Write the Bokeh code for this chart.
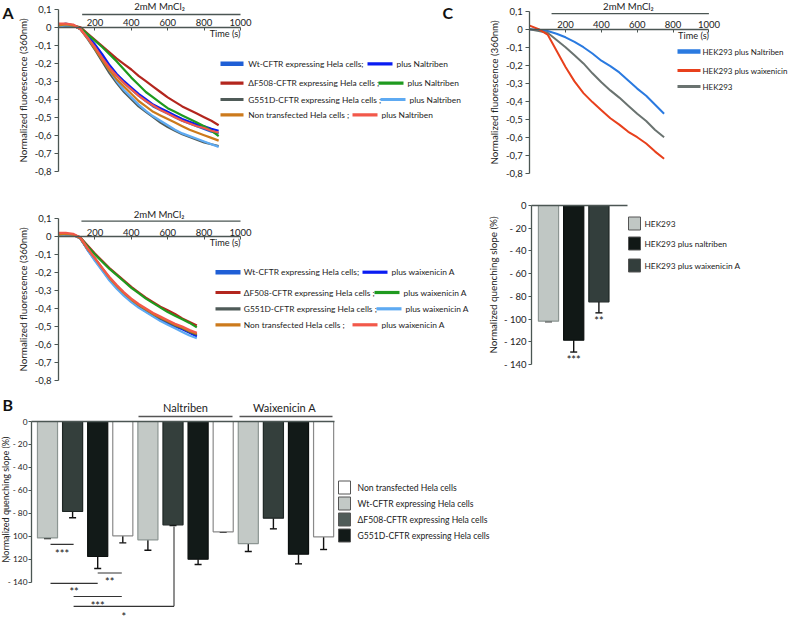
import math
from bokeh.plotting import figure
from bokeh.models import (Range1d, LinearAxis, FixedTicker, CustomJSTickFormatter,
                          Whisker, TeeHead, ColumnDataSource)
from bokeh.layouts import row, column
from bokeh.embed import file_html
from bokeh.resources import INLINE
from bokeh.core.properties import value

# ====================== DATA ======================
# Panel A (top): Mn2+ quench traces, plus Naltriben
time_a1 = [0, 40, 80, 120, 160, 200, 240, 280, 320, 360, 400, 440, 480, 520, 560, 600,
           640, 680, 720, 760, 800, 840, 880]
wt_a1 = [0.01, 0.02, 0.01, -0.01, -0.055, -0.10, -0.16, -0.22, -0.27, -0.31, -0.345, -0.38,
         -0.41, -0.44, -0.46, -0.48, -0.50, -0.52, -0.535, -0.55, -0.565, -0.58, -0.59]
wt_nal_a1 = [0.01, 0.01, 0.01, -0.01, -0.05, -0.095, -0.15, -0.21, -0.26, -0.30, -0.335, -0.37,
             -0.40, -0.43, -0.45, -0.47, -0.49, -0.51, -0.525, -0.54, -0.55, -0.565, -0.575]
df_a1 = [0.01, 0.015, 0.01, 0.0, -0.035, -0.07, -0.105, -0.14, -0.175, -0.205, -0.235, -0.27,
         -0.30, -0.33, -0.36, -0.39, -0.415, -0.44, -0.46, -0.48, -0.50, -0.52, -0.545]
df_nal_a1 = [0.005, 0.01, 0.01, -0.005, -0.04, -0.075, -0.11, -0.15, -0.19, -0.235, -0.28, -0.32,
             -0.36, -0.39, -0.42, -0.45, -0.47, -0.49, -0.51, -0.53, -0.55, -0.575, -0.605]
g5_a1 = [0.01, 0.01, 0.01, -0.01, -0.065, -0.125, -0.19, -0.255, -0.31, -0.36, -0.40, -0.44,
         -0.47, -0.50, -0.53, -0.555, -0.575, -0.595, -0.61, -0.625, -0.64, -0.65, -0.66]
g5_nal_a1 = [0.005, 0.01, 0.01, -0.01, -0.06, -0.115, -0.175, -0.24, -0.30, -0.35, -0.39, -0.43,
             -0.465, -0.495, -0.52, -0.545, -0.57, -0.59, -0.605, -0.62, -0.635, -0.65, -0.665]
non_a1 = [0.01, 0.015, 0.01, -0.01, -0.06, -0.12, -0.18, -0.24, -0.29, -0.33, -0.37, -0.41,
          -0.44, -0.47, -0.49, -0.51, -0.53, -0.55, -0.57, -0.585, -0.60, -0.615, -0.63]
non_nal_a1 = [0.02, 0.02, 0.015, -0.01, -0.06, -0.11, -0.17, -0.225, -0.27, -0.31, -0.345, -0.38,
              -0.41, -0.435, -0.46, -0.48, -0.50, -0.52, -0.535, -0.55, -0.56, -0.575, -0.585]

# Panel A (bottom): plus waixenicin A
time_a2 = [0, 40, 80, 120, 160, 200, 240, 280, 320, 360, 400, 440, 480, 520, 560, 600,
           640, 680, 720, 760]
wt_a2 = [0.015, 0.015, 0.01, -0.01, -0.07, -0.125, -0.18, -0.235, -0.28, -0.32,
         -0.355, -0.385, -0.41, -0.435, -0.455, -0.475, -0.495, -0.51, -0.53, -0.55]
wt_wx_a2 = [0.01, 0.01, 0.01, -0.01, -0.075, -0.13, -0.185, -0.24, -0.285, -0.325,
            -0.36, -0.39, -0.415, -0.44, -0.46, -0.48, -0.50, -0.515, -0.535, -0.555]
df_a2 = [0.01, 0.015, 0.01, -0.005, -0.05, -0.095, -0.135, -0.175, -0.21, -0.245,
         -0.28, -0.31, -0.34, -0.365, -0.39, -0.41, -0.43, -0.455, -0.475, -0.495]
df_wx_a2 = [0.005, 0.01, 0.01, -0.005, -0.055, -0.10, -0.14, -0.18, -0.215, -0.25,
            -0.285, -0.315, -0.345, -0.37, -0.395, -0.42, -0.44, -0.46, -0.48, -0.505]
g5_a2 = [0.01, 0.01, 0.01, -0.01, -0.07, -0.125, -0.18, -0.235, -0.28, -0.32,
         -0.355, -0.385, -0.41, -0.435, -0.455, -0.475, -0.495, -0.51, -0.53, -0.545]
g5_wx_a2 = [0.005, 0.01, 0.01, -0.01, -0.075, -0.135, -0.19, -0.245, -0.29, -0.33,
            -0.365, -0.395, -0.42, -0.445, -0.47, -0.49, -0.51, -0.53, -0.55, -0.565]
non_a2 = [0.01, 0.015, 0.01, -0.01, -0.07, -0.12, -0.175, -0.23, -0.275, -0.315,
          -0.35, -0.38, -0.405, -0.43, -0.45, -0.47, -0.49, -0.505, -0.525, -0.54]
non_wx_a2 = [0.02, 0.02, 0.015, -0.005, -0.065, -0.12, -0.175, -0.225, -0.27, -0.31,
             -0.345, -0.375, -0.40, -0.425, -0.445, -0.465, -0.485, -0.50, -0.52, -0.535]

# Panel C (top): HEK293 traces
time_c = [0, 50, 100, 150, 200, 250, 300, 350, 400, 450, 500, 550, 600, 650, 700, 750]
hek_nal_c = [0.0, -0.005, -0.01, -0.025, -0.045, -0.07, -0.10, -0.135, -0.175, -0.205,
             -0.24, -0.285, -0.33, -0.37, -0.42, -0.47]
hek_wx_c = [0.02, 0.0, -0.03, -0.12, -0.21, -0.29, -0.355, -0.405, -0.45, -0.495,
            -0.53, -0.57, -0.60, -0.635, -0.68, -0.72]
hek_c = [0.0, -0.01, -0.02, -0.06, -0.10, -0.145, -0.19, -0.245, -0.295, -0.34,
         -0.38, -0.425, -0.47, -0.51, -0.56, -0.60]

# Panel B: normalized quenching slopes (groups: control, Naltriben, Waixenicin A)
slope_wt = [-101.4, -103.1, -106.3]
err_wt = [0.5, 9.0, 7.0]
slope_df = [-78.4, -90.0, -84.2]
err_df = [5.5, 0.6, 9.3]
slope_g5 = [-117.6, -120.0, -115.6]
err_g5 = [10.4, 4.6, 8.4]
slope_non = [-99.6, -96.1, -100.5]
err_non = [6.1, 0.5, 11.0]

# Panel C (bottom): HEK293 quenching slopes
hek_slope = [-101.8, -118.6, -84.8]
hek_err = [0.5, 10.4, 9.7]

# Tick labels
FL_TICKS = [0.1, 0.0, -0.1, -0.2, -0.3, -0.4, -0.5, -0.6, -0.7, -0.8]
TIME_TICKS = [200, 400, 600, 800, 1000]
SLOPE_TICKS = [0, -20, -40, -60, -80, -100, -120, -140]

# Labels
CELL_NAMES = ["Wt-CFTR expressing Hela cells;", "\u0394F508-CFTR expressing Hela cells ;",
              "G551D-CFTR expressing Hela cells ;", "Non transfected Hela cells ;"]
B_LEG_NAMES = ["Non transfected Hela cells", "Wt-CFTR expressing Hela cells",
               "\u0394F508-CFTR expressing Hela cells", "G551D-CFTR expressing Hela cells"]
C_LINE_NAMES = ["HEK293 plus Naltriben", "HEK293 plus waixenicin", "HEK293"]
C_BAR_NAMES = ["HEK293", "HEK293 plus naltriben", "HEK293 plus waixenicin A"]
SLOPE_LABEL = "Normalized quenching slope (%)"

# Significance annotations (panel B)
SIG_X0 = [0.12, 2.0, 0.12, 1.04, 1.04]
SIG_X1 = [1.04, 2.96, 2.0, 2.96, 5.04]
SIG_Y = [-107, -132, -141, -152.5, -161]
SIG_TXT = ["***", "**", "**", "***", "*"]

# ====================== STYLE ======================
FONT = "Lato"
AX_COL = "#4b5653"
TXT_COL = "#222222"
TICK_FS, AXLBL_FS = 9.5, 9.8
LEG_A_FS, LEG_B_FS, LEG_C_FS, LEG_CB_FS = 8.4, 8.6, 8.0, 8.3

COL_CTRL = ["#1f5fd6", "#b3261e", "#4f5b58", "#cc7a1c"]
COL_DRUG = ["#0a1cf2", "#1f9a1f", "#5eaaf2", "#f2584a"]
BAR_FILL = ["#c3c9c6", "#343f3c", "#121a18", "#ffffff"]
BAR_LINE = ["#8c9592", "#1e2624", "#0b0f0e", "#8a8a8a"]

A_COL_W = 480
C_COL_W = 793 - A_COL_W


def F(s):
    return f"{s:.1f}px"


def base_fig(W, H, xr, yr):
    p = figure(width=W, height=H, x_range=Range1d(*xr), y_range=Range1d(*yr),
               x_axis_type=None, y_axis_type=None, output_backend="svg",
               toolbar_location=None, min_border_left=0, min_border_right=0,
               min_border_top=0, min_border_bottom=0)
    p.title.visible = False
    p.outline_line_color = None
    p.background_fill_color = "white"
    p.border_fill_color = "white"
    return p


def style_axis(ax):
    ax.axis_line_color = AX_COL
    ax.axis_line_width = 1.3
    ax.major_tick_line_color = AX_COL
    ax.minor_tick_line_color = None
    ax.major_label_text_font = FONT
    ax.major_label_text_font_size = F(TICK_FS)
    ax.major_label_text_color = TXT_COL
    ax.axis_label_text_font = FONT
    ax.axis_label_text_font_size = F(AXLBL_FS)
    ax.axis_label_text_font_style = "normal"
    ax.axis_label_text_color = TXT_COL


def txt(p, x, y, t, size=8.4, align="left", baseline="middle", color=TXT_COL, style="normal",
        angle=0.0):
    p.text(x=x, y=y, text=t, text_font=value(FONT), text_font_size=value(F(size)),
           text_align=align, text_baseline=baseline, text_color=color,
           text_font_style=style, angle=angle)


def trace_axes(p, mn_line_y, mn_text_y, mn_x0, time_lbl_y):
    ya = LinearAxis(fixed_location=0, bounds=(FL_TICKS[-1], FL_TICKS[0]),
                    ticker=FixedTicker(ticks=FL_TICKS),
                    formatter=CustomJSTickFormatter(
                        code="if (Math.abs(tick) < 1e-9) { return '0'; } return tick.toFixed(1).replace('.', ',');"),
                    axis_label="Normalized fluorescence (360nm)")
    style_axis(ya)
    ya.major_tick_out = 4
    ya.major_tick_in = 0
    ya.major_label_standoff = 3
    ya.axis_label_standoff = 3
    p.add_layout(ya, "left")
    xa = LinearAxis(fixed_location=0, bounds=(0, TIME_TICKS[-1]),
                    ticker=FixedTicker(ticks=TIME_TICKS))
    style_axis(xa)
    xa.major_tick_out = 0
    xa.major_tick_in = 3
    xa.major_label_standoff = 1
    p.add_layout(xa, "above")
    txt(p, [TIME_TICKS[-1]], [time_lbl_y], ["Time (s)"], size=9.2, align="right")
    p.segment(x0=[mn_x0], y0=[mn_line_y], x1=[TIME_TICKS[-1]], y1=[mn_line_y],
              line_color=AX_COL, line_width=1.3)
    txt(p, [(mn_x0 + TIME_TICKS[-1]) / 2 - 10], [mn_text_y], ["2mM MnCl\u2082"], size=9.6, align="center")


def trace_legend(p, fx, fy, rows_y, seg1, txt1_x, seg2_starts, drug_label):
    for i in range(4):
        y = fy(rows_y[i])
        p.segment(x0=[fx(seg1[0])], y0=[y], x1=[fx(seg1[1])], y1=[y],
                  line_color=COL_CTRL[i], line_width=4.5 if i == 0 else 3.2)
        txt(p, [fx(txt1_x)], [y], [CELL_NAMES[i]], size=LEG_A_FS)
        s2 = seg2_starts[i]
        p.segment(x0=[fx(s2)], y0=[y], x1=[fx(s2 + 25)], y1=[y],
                  line_color=COL_DRUG[i], line_width=3.2)
        txt(p, [fx(s2 + 29)], [y], [drug_label], size=LEG_A_FS)


def panel_letter(p, x, y, t):
    txt(p, [x], [y], [t], size=16, baseline="top", color="#111111", style="bold")


# ====================== PANEL A (top) ======================
def fxA(px):
    return (px - 58.0) / 0.182


def fyA1(py):
    return (26.7 - py) / 180.0


def fyA2(py):
    return (236.0 - py) / 180.0


pa1 = base_fig(A_COL_W, 209, (fxA(0), fxA(A_COL_W)), (fyA1(209), fyA1(0)))
trace_axes(pa1, 0.0705, 0.115, 130, -0.036)
for ys, c in [(wt_a1, COL_CTRL[0]), (wt_nal_a1, COL_DRUG[0]), (df_a1, COL_CTRL[1]),
              (df_nal_a1, COL_DRUG[1]), (g5_a1, COL_CTRL[2]), (g5_nal_a1, COL_DRUG[2]),
              (non_a1, COL_CTRL[3]), (non_nal_a1, COL_DRUG[3])]:
    pa1.line(time_a1, ys, line_color=c, line_width=2.2)
trace_legend(pa1, fxA, fyA1, [63.3, 82.7, 99.0, 114.3], (220, 243), 247.7,
             [367, 378, 380, 352], "plus Naltriben")
panel_letter(pa1, fxA(2), fyA1(2), "A")
panel_letter(pa1, fxA(442), fyA1(2), "C")

# ====================== PANEL A (bottom) ======================
pa2 = base_fig(A_COL_W, 185, (fxA(0), fxA(A_COL_W)), (fyA2(394), fyA2(209)))
trace_axes(pa2, 0.085, 0.12, 126, -0.036)
for ys, c in [(wt_a2, COL_CTRL[0]), (wt_wx_a2, COL_DRUG[0]), (df_a2, COL_CTRL[1]),
              (df_wx_a2, COL_DRUG[1]), (g5_a2, COL_CTRL[2]), (g5_wx_a2, COL_DRUG[2]),
              (non_a2, COL_CTRL[3]), (non_wx_a2, COL_DRUG[3])]:
    pa2.line(time_a2, ys, line_color=c, line_width=2.2)
trace_legend(pa2, fxA, fyA2, [271.7, 292.0, 308.3, 324.3], (215, 240), 243.3,
             [362, 374, 376, 352], "plus waixenicin A")

# ====================== PANEL C (top) ======================
def fxC(px):
    return (px - 529.2) / 0.1792


def fyC(py):
    return (28.7 - py) / 180.0


pc1 = base_fig(C_COL_W, 190, (fxC(A_COL_W), fxC(793)), (fyC(190), fyC(0)))
trace_axes(pc1, 0.087, 0.128, 122, -0.036)
C_COLS = ["#2a7ae0", "#e8401c", "#6a7370"]
for ys, c in [(hek_nal_c, C_COLS[0]), (hek_c, C_COLS[2]), (hek_wx_c, C_COLS[1])]:
    pc1.line(time_c, ys, line_color=c, line_width=2.0)
for i, yy in enumerate([51.0, 70.0, 86.0]):
    pc1.segment(x0=[fxC(677)], y0=[fyC(yy)], x1=[fxC(700)], y1=[fyC(yy)],
                line_color=C_COLS[i], line_width=4.5 if i == 0 else 3.2)
    txt(pc1, [fxC(702)], [fyC(yy)], [C_LINE_NAMES[i]], size=LEG_C_FS)

# ====================== PANEL C (bottom) ======================
def fxCB(px):
    return (px - 548.0) / 25.2


def fyCB(py):
    return (205.0 - py) / 1.136


def slope_axes(p, x_axis, zero_start, zero_end, with_label=True, tick_fs=TICK_FS, standoff=2):
    ya = LinearAxis(fixed_location=x_axis, bounds=(SLOPE_TICKS[-1], SLOPE_TICKS[0]),
                    ticker=FixedTicker(ticks=SLOPE_TICKS),
                    formatter=CustomJSTickFormatter(
                        code="if (tick == 0) { return '0'; } return '- ' + Math.abs(tick).toFixed(0);"),
                    axis_label=SLOPE_LABEL if with_label else None)
    style_axis(ya)
    ya.major_label_text_font_size = F(tick_fs)
    ya.major_tick_out = 3
    ya.major_tick_in = 0
    ya.major_label_standoff = standoff
    ya.axis_label_standoff = 2
    p.add_layout(ya, "left")
    za = LinearAxis(fixed_location=0, bounds=(zero_start, zero_end),
                    ticker=FixedTicker(ticks=[]))
    style_axis(za)
    za.major_tick_out = 0
    za.major_tick_in = 0
    za.major_label_text_font_size = "0px"
    p.add_layout(za, "below")


pc2 = base_fig(C_COL_W, 204, (fxCB(A_COL_W), fxCB(793)), (fyCB(394), fyCB(190)))
slope_axes(pc2, fxCB(531), fxCB(531), fxCB(627))
hek_x = [0, 1, 2]
hek_fill = ["#c0c7c4", "#111816", "#333e3c"]
hek_line = ["#8c9592", "#0b0f0e", "#1e2624"]
src_c = ColumnDataSource(dict(x=hek_x, val=hek_slope, low=[v - e for v, e in zip(hek_slope, hek_err)],
                              fill=hek_fill, line=hek_line))
pc2.vbar(x="x", top=0, bottom="val", width=0.8, fill_color="fill", line_color="line",
         line_width=1.2, source=src_c)
pc2.add_layout(Whisker(source=src_c, base="x", upper="val", lower="low", dimension="height",
                       line_color="#111111", line_width=1.4, upper_head=None,
                       lower_head=TeeHead(size=7, line_color="#111111", line_width=1.4)))
txt(pc2, [1, 2], [fyCB(352), fyCB(313)], ["***", "**"], size=11, align="center",
    baseline="top", color="#111111")
for i, yy in enumerate([223.0, 243.0, 265.0]):
    pc2.rect(x=[fxCB(634)], y=[fyCB(yy)], width=12, height=13,
             width_units="screen", height_units="screen", fill_color=hek_fill[i],
             line_color="#555555", line_width=1)
    txt(pc2, [fxCB(644)], [fyCB(yy)], [C_BAR_NAMES[i]], size=LEG_CB_FS)

# ====================== PANEL B ======================
def fxB(px):
    return (px - 47.0) / 25.1


def fyB(py):
    return (421.0 - py) / 1.148


pb = base_fig(793, 230, (fxB(0), fxB(793)), (fyB(624), fyB(394)))
slope_axes(pb, fxB(31), fxB(31), fxB(334), with_label=False, tick_fs=8.3, standoff=1)
txt(pb, [fxB(5.2)], [fyB(499)], [SLOPE_LABEL], size=9.0, align="center", angle=math.pi / 2)
bx, bval, blow, bfill, bline = [], [], [], [], []
for g in range(3):
    for k, (vals, errs) in enumerate([(slope_wt, err_wt), (slope_df, err_df),
                                      (slope_g5, err_g5), (slope_non, err_non)]):
        bx.append(4 * g + k)
        bval.append(vals[g])
        blow.append(vals[g] - errs[g])
        bfill.append(BAR_FILL[k])
        bline.append(BAR_LINE[k])
src_b = ColumnDataSource(dict(x=bx, val=bval, low=blow, fill=bfill, line=bline))
pb.vbar(x="x", top=0, bottom="val", width=0.8, fill_color="fill", line_color="line",
        line_width=1.2, source=src_b)
pb.add_layout(Whisker(source=src_b, base="x", upper="val", lower="low", dimension="height",
                      line_color="#111111", line_width=1.4, upper_head=None,
                      lower_head=TeeHead(size=7, line_color="#111111", line_width=1.4)))
# significance brackets
pb.segment(x0=SIG_X0, y0=SIG_Y, x1=SIG_X1, y1=SIG_Y, line_color="#333333", line_width=1.1)
pb.segment(x0=[SIG_X1[-1]], y0=[SIG_Y[-1]], x1=[SIG_X1[-1]], y1=[-91.5],
           line_color="#333333", line_width=1.1)
txt(pb, [(a + b) / 2 for a, b in zip(SIG_X0, SIG_X1)],
    [fyB(v) for v in [546, 574, 584, 598, 609]], SIG_TXT, size=11, align="center",
    baseline="top", color="#111111")
# group labels
pb.segment(x0=[fxB(138), fxB(239)], y0=[fyB(416), fyB(416)],
           x1=[fxB(232), fxB(332)], y1=[fyB(416), fyB(416)],
           line_color="#555555", line_width=1.3)
txt(pb, [fxB(185), fxB(284)], [fyB(406.5), fyB(406.5)], ["Naltriben", "Waixenicin A"],
    size=11, align="center")
# legend
B_LEG_FILL = ["#ffffff", "#c3c9c6", "#505c59", "#121a18"]
for i, yy in enumerate([487.0, 503.0, 519.0, 535.0]):
    pb.rect(x=[fxB(344)], y=[fyB(yy)], width=12, height=13,
            width_units="screen", height_units="screen", fill_color=B_LEG_FILL[i],
            line_color="#555555", line_width=1)
    txt(pb, [fxB(357)], [fyB(yy)], [B_LEG_NAMES[i]], size=LEG_B_FS)
panel_letter(pb, fxB(2), fyB(394), "B")

layout = column(row(column(pa1, pa2), column(pc1, pc2)), pb)
open("out.html", "w").write(file_html(layout, INLINE))
